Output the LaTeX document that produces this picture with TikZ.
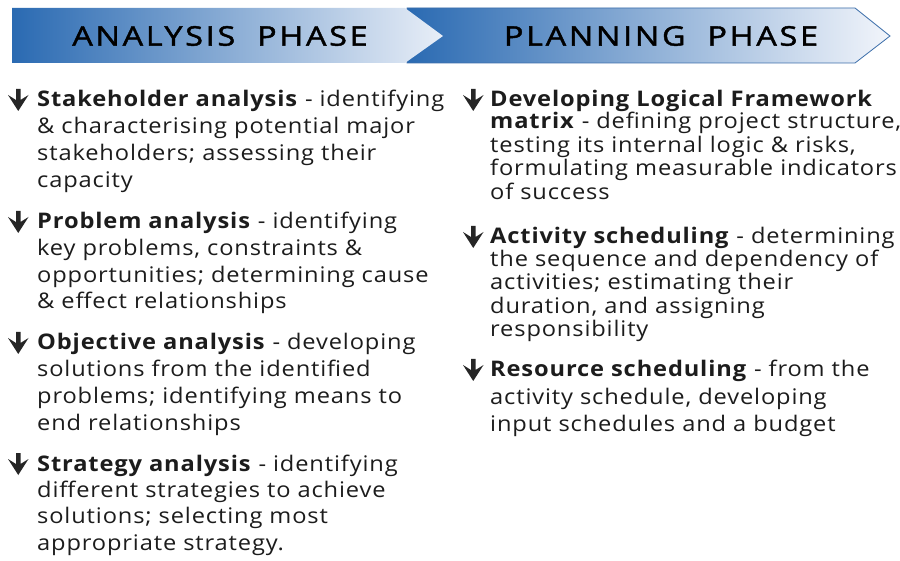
\documentclass[tikz,border=0pt]{standalone}
\usepackage{fontspec}
\setmainfont{Open Sans}
\newfontfamily\bodyfont[LetterSpace=4,FakeStretch=1.1]{Open Sans}
\newfontfamily\headfont[LetterSpace=10,FakeStretch=1.2,FakeBold=1.6]{Open Sans}
\definecolor{bandA}{RGB}{42,106,178}
\definecolor{bandB}{RGB}{242,245,251}
\definecolor{bandEdge}{RGB}{60,110,170}
\definecolor{txt}{RGB}{28,28,28}
\tikzset{
  hd/.style={inner sep=0, text=black, font=\headfont\fontsize{27}{27}\selectfont},
  ln/.style={anchor=base west, inner sep=0, text=txt, font=\bodyfont\fontsize{21.5}{21.5}\selectfont},
  bul/.style={fill=black!85, draw=none},
}
\newcommand\dnarrow[2]{%
  \fill[bul] (#1+8,#2-18) -- (#1+12.5,#2-18) -- (#1+12.5,#2-7) -- (#1+20.5,#2-12)
    -- (#1+10.25,#2+4) -- (#1,#2-12) -- (#1+8,#2-7) -- cycle;}
\begin{document}
\begin{tikzpicture}[x=1pt,y=-1pt]
\useasboundingbox[fill=white] (0,0) rectangle (900,561);
% banner
\shade[left color=bandA, right color=bandB, draw=bandEdge, line width=0.8pt]
  (407,8) -- (855,8) -- (890,36) -- (855,63) -- (407,63) -- cycle;
\shade[left color=bandA, right color=bandB!95!bandA]
  (12,8) -- (405,8) -- (443,36) -- (405,63) -- (12,63) -- cycle;
\node[hd] (hA) at (220,36) {ANALYSIS\hspace{0.4em} PHASE};
\node[hd] (hP) at (661,36) {PLANNING\hspace{0.4em} PHASE};
% left column
\dnarrow{8}{107}
\node[ln] (a1) at (37,107) {\textbf{Stakeholder analysis} - identifying};
\node[ln] (a2) at (37,134) {\& characterising potential major};
\node[ln] (a3) at (37,161) {stakeholders; assessing their};
\node[ln] (a4) at (37,188) {capacity};
\dnarrow{8}{229}
\node[ln] (b1) at (37,229) {\textbf{Problem analysis} - identifying};
\node[ln] (b2) at (37,256) {key problems, constraints \&};
\node[ln] (b3) at (37,283) {opportunities; determining cause};
\node[ln] (b4) at (37,309) {\& effect relationships};
\dnarrow{8}{350}
\node[ln] (c1) at (37,350) {\textbf{Objective analysis} - developing};
\node[ln] (c2) at (37,377) {solutions from the identified};
\node[ln] (c3) at (37,403) {problems; identifying means to};
\node[ln] (c4) at (37,430) {end relationships};
\dnarrow{8}{471}
\node[ln] (d1) at (37,471) {\textbf{Strategy analysis} - identifying};
\node[ln] (d2) at (37,497) {different strategies to achieve};
\node[ln] (d3) at (37,523) {solutions; selecting most};
\node[ln] (d4) at (37,550) {appropriate strategy.};
% right column
\dnarrow{463}{107}
\node[ln] (e1) at (490,107) {\textbf{Developing Logical Framework}};
\node[ln] (e2) at (490,129) {\textbf{matrix} - defining project structure,};
\node[ln] (e3) at (490,153) {testing its internal logic \& risks,};
\node[ln] (e4) at (490,176) {formulating measurable indicators};
\node[ln] (e5) at (490,200) {of success};
\dnarrow{463}{244}
\node[ln] (f1) at (490,244) {\textbf{Activity scheduling} - determining};
\node[ln] (f2) at (490,267) {the sequence and dependency of};
\node[ln] (f3) at (490,290) {activities; estimating their};
\node[ln] (f4) at (490,314) {duration, and assigning};
\node[ln] (f5) at (490,337) {responsibility};
\dnarrow{463}{377}
\node[ln] (g1) at (490,377) {\textbf{Resource scheduling} - from the};
\node[ln] (g2) at (490,404) {activity schedule, developing};
\node[ln] (g3) at (490,431) {input schedules and a budget};
\end{tikzpicture}
\end{document}
